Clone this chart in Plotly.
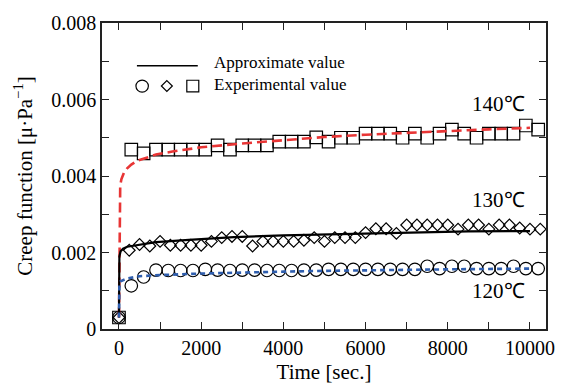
import plotly.graph_objects as go

# ---------------- data (creep function values in units of 1e-3 1/(µPa)) ----------------
t_sq_140 = [0, 300, 600, 900, 1200, 1500, 1800, 2100, 2400, 2700, 3000, 3300, 3600, 3900,
            4200, 4500, 4800, 5100, 5400, 5700, 6000, 6300, 6600, 6900, 7200, 7500, 7800,
            8100, 8400, 8700, 9000, 9300, 9600, 9900, 10200]
j_sq_140 = [0.3, 4.69, 4.59, 4.69, 4.69, 4.69, 4.69, 4.69, 4.80, 4.69, 4.80, 4.80, 4.80, 4.90,
            4.90, 4.90, 5.01, 4.90, 5.00, 5.00, 5.11, 5.11, 5.11, 5.00, 5.11, 5.00, 5.11,
            5.21, 5.11, 5.00, 5.11, 5.11, 5.11, 5.32, 5.21]

t_dm_130 = [0, 250, 500, 750, 1000, 1250, 1500, 1750, 2000, 2250, 2500, 2750, 3000, 3250,
            3500, 3750, 4000, 4250, 4500, 4750, 5000, 5250, 5500, 5750, 6000, 6250, 6500,
            6750, 7000, 7250, 7500, 7750, 8000, 8250, 8500, 8750, 9000, 9250, 9500, 9750,
            10000, 10250]
j_dm_130 = [0.3, 2.06, 2.21, 2.17, 2.29, 2.19, 2.19, 2.19, 2.19, 2.29, 2.39, 2.42, 2.42, 2.17,
            2.29, 2.29, 2.29, 2.29, 2.32, 2.39, 2.29, 2.39, 2.39, 2.39, 2.52, 2.62, 2.62,
            2.50, 2.72, 2.72, 2.72, 2.72, 2.72, 2.61, 2.72, 2.72, 2.61, 2.72, 2.72, 2.64,
            2.61, 2.61]

t_ci_120 = [0, 300, 600, 900, 1200, 1500, 1800, 2100, 2400, 2700, 3000, 3300, 3600, 3900,
            4200, 4500, 4800, 5100, 5400, 5700, 6000, 6300, 6600, 6900, 7200, 7500, 7800,
            8100, 8400, 8700, 9000, 9300, 9600, 9900, 10200]
j_ci_120 = [0.3, 1.13, 1.36, 1.54, 1.53, 1.53, 1.53, 1.56, 1.54, 1.53, 1.54, 1.54, 1.53, 1.53,
            1.53, 1.54, 1.54, 1.56, 1.56, 1.56, 1.56, 1.56, 1.56, 1.56, 1.56, 1.64, 1.58,
            1.64, 1.64, 1.58, 1.58, 1.58, 1.64, 1.58, 1.58]

# approximate (model) curves
t_fit_140 = [0, 15, 30, 60, 120, 200, 300, 450, 700, 900, 1300, 1700, 2000, 3000, 4000,
             5000, 6000, 7000, 8000, 9000, 10000]
j_fit_140 = [0.3, 3.50, 3.75, 3.92, 4.08, 4.20, 4.30, 4.40, 4.50, 4.56, 4.64, 4.71, 4.75,
             4.85, 4.94, 5.02, 5.08, 5.13, 5.18, 5.22, 5.26]

t_fit_130 = [0, 10, 40, 100, 200, 500, 900, 1700, 2800, 4000, 5150, 6000, 7400, 8500, 10000]
j_fit_130 = [0.3, 1.90, 2.03, 2.10, 2.15, 2.21, 2.27, 2.33, 2.40, 2.45, 2.48, 2.50, 2.53,
             2.55, 2.56]

t_fit_120 = [0, 10, 40, 200, 500, 1000, 2000, 3000, 4000, 5000, 6000, 7000, 8000, 9000, 10000]
j_fit_120 = [0.3, 1.20, 1.25, 1.32, 1.38, 1.41, 1.45, 1.48, 1.50, 1.52, 1.54, 1.55, 1.56,
             1.57, 1.58]

SCALE = 1e-3
x_tickvals = [0, 2000, 4000, 6000, 8000, 10000]
y_tickvals = [0, 0.002, 0.004, 0.006, 0.008]
y_ticktext = ["0", "0.002", "0.004", "0.006", "0.008"]
temp_labels = ["140℃", "130℃", "120℃"]


def sc(v):
    return [a * SCALE for a in v]


FONT = "Liberation Serif"
W, H = 567, 392
L, R, T, B = 102, 20, 16, 57
PW, PH = W - L - R, H - T - B


def px(xp):
    return (xp - L) / PW


def py(yp):
    return (H - B - yp) / PH


fig = go.Figure()

mk = dict(color="rgba(0,0,0,0)", line=dict(color="black", width=1.2))
fig.add_trace(go.Scatter(x=t_ci_120, y=sc(j_ci_120), mode="markers",
                         marker=dict(symbol="circle", size=12.5, **mk), showlegend=False))
fig.add_trace(go.Scatter(x=t_dm_130, y=sc(j_dm_130), mode="markers",
                         marker=dict(symbol="diamond", size=9, **mk), showlegend=False))
fig.add_trace(go.Scatter(x=t_sq_140, y=sc(j_sq_140), mode="markers",
                         marker=dict(symbol="square", size=12.5, **mk), showlegend=False))

fig.add_trace(go.Scatter(x=t_fit_140, y=sc(j_fit_140), mode="lines",
                         line=dict(color="#E83535", width=2.6, dash="10px,5px"), showlegend=False))
fig.add_trace(go.Scatter(x=t_fit_130, y=sc(j_fit_130), mode="lines",
                         line=dict(color="black", width=2.2), showlegend=False))
fig.add_trace(go.Scatter(x=t_fit_120, y=sc(j_fit_120), mode="lines",
                         line=dict(color="#2F5EAE", width=2.6, dash="5px,4px"), showlegend=False))

axis_common = dict(showline=True, linecolor="#222", linewidth=1.5, mirror="allticks",
                   ticks="inside", ticklen=7, tickwidth=1.3, tickcolor="#222",
                   showgrid=False, zeroline=False,
                   tickfont=dict(family=FONT, size=20, color="black"))

fig.update_xaxes(range=[-413, 10390], tickvals=x_tickvals, tickformat="d",
                 minor=dict(dtick=1000, tick0=0, ticks="inside", ticklen=7, tickwidth=1.3,
                            tickcolor="#222"),
                 title=dict(text="Time [sec.]", font=dict(family=FONT, size=21, color="black"),
                            standoff=7),
                 **axis_common)
fig.update_yaxes(range=[0, 0.008], tickvals=y_tickvals, ticktext=y_ticktext,
                 minor=dict(dtick=0.001, tick0=0, ticks="inside", ticklen=7, tickwidth=1.3,
                            tickcolor="#222"),
                 title=dict(text="Creep function [μ·Pa<sup>−1</sup>]",
                            font=dict(family=FONT, size=21, color="black"), standoff=13),
                 **axis_common)

# legend drawn manually
shapes = [
    dict(type="line", xref="paper", yref="paper", x0=px(137), x1=px(198), y0=py(60.5), y1=py(60.5),
         line=dict(color="black", width=1.5)),
    dict(type="circle", xref="paper", yref="paper", x0=px(136), x1=px(148.5), y0=py(75.5), y1=py(88),
         line=dict(color="black", width=1.2)),
    dict(type="path", xref="paper", yref="paper",
         path="M {0},{1} L {2},{3} L {0},{4} L {5},{3} Z".format(
             px(167), py(76), px(172.5), py(81.7), py(87.4), px(161.5)),
         line=dict(color="black", width=1.2)),
    dict(type="rect", xref="paper", yref="paper", x0=px(187), x1=px(199), y0=py(75.7), y1=py(87.7),
         line=dict(color="black", width=1.2)),
]

annotations = [
    dict(text="Approximate value", xref="paper", yref="paper", x=px(212), y=py(57.5),
         xanchor="left", yanchor="middle", showarrow=False,
         font=dict(family=FONT, size=17, color="black")),
    dict(text="Experimental value", xref="paper", yref="paper", x=px(212), y=py(80),
         xanchor="left", yanchor="middle", showarrow=False,
         font=dict(family=FONT, size=17, color="black")),
]
for lab, yy in zip(temp_labels, [100, 200, 295]):
    annotations.append(dict(text=lab, xref="paper", yref="paper", x=px(528), y=py(yy),
                            xanchor="right", yanchor="middle", showarrow=False,
                            font=dict(family=FONT, size=21, color="black")))

fig.update_layout(width=W, height=H, margin=dict(l=L, r=R, t=T, b=B),
                  plot_bgcolor="white", paper_bgcolor="white",
                  shapes=shapes, annotations=annotations, showlegend=False)

fig.write_html("out.html")
